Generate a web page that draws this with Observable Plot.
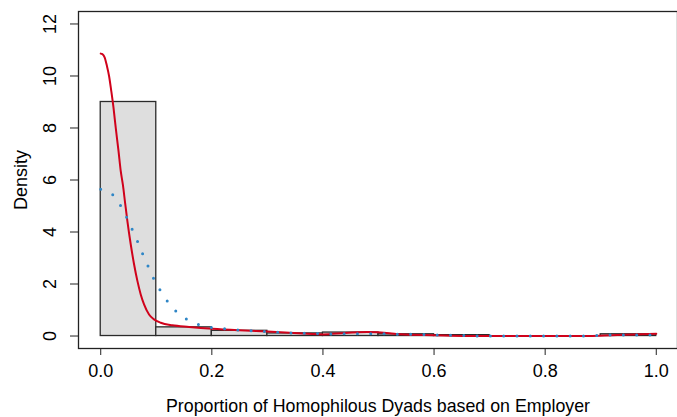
<!DOCTYPE html>
<html>
<head>
<meta charset="utf-8">
<script src="https://cdn.jsdelivr.net/npm/d3@7"></script>
<script src="https://cdn.jsdelivr.net/npm/@observablehq/plot@0.6"></script>
<style>
  html, body { margin: 0; padding: 0; background: #fff; }
  #chart svg { display: block; }
</style>
</head>
<body>
<div id="chart"></div>
<script>
// Histogram bins (density scale)
const binStart = [0.0, 0.1, 0.2, 0.3, 0.4, 0.5, 0.6, 0.7, 0.8, 0.9];
const binEnd   = [0.1, 0.2, 0.3, 0.4, 0.5, 0.6, 0.7, 0.8, 0.9, 1.0];
const binDensity = [9.0, 0.333, 0.2, 0.1, 0.133, 0.067, 0.033, 0, 0, 0.067];

// Red solid density curve
const redX = [0, 0.003, 0.007, 0.011, 0.015, 0.019, 0.023, 0.027, 0.032, 0.036, 0.040, 0.044, 0.048, 0.054, 0.060, 0.066, 0.072, 0.078, 0.087, 0.096, 0.108, 0.129, 0.159, 0.201, 0.25, 0.3, 0.372, 0.40, 0.44, 0.48, 0.52, 0.54, 0.60, 0.66, 0.75, 0.88, 0.92, 0.96, 1.0];
const redY = [10.86, 10.84, 10.72, 10.4, 10.0, 9.42, 8.78, 8.01, 7.12, 6.35, 5.8, 5.1, 4.42, 3.53, 2.76, 2.12, 1.60, 1.22, 0.83, 0.64, 0.51, 0.41, 0.35, 0.28, 0.22, 0.17, 0.09, 0.06, 0.12, 0.15, 0.11, 0.065, 0.03, 0.0, 0.0, 0.0, 0.03, 0.06, 0.09];

// Blue dotted density curve
const blueX = [0, 0.022, 0.036, 0.047, 0.057, 0.067, 0.076, 0.086, 0.096, 0.108, 0.121, 0.137, 0.156, 0.179, 0.202, 0.227, 0.25, 0.274, 0.298, 0.322, 0.348, 0.372, 0.396, 0.42, 0.444, 0.468, 0.492, 0.517, 0.541, 0.565, 0.589, 0.613, 0.637, 0.661, 0.686, 0.75, 0.85, 0.88, 0.904, 0.94, 0.976, 1.0];
const blueY = [5.64, 5.43, 5.01, 4.55, 4.08, 3.60, 3.13, 2.65, 2.18, 1.73, 1.31, 0.92, 0.63, 0.42, 0.32, 0.27, 0.23, 0.20, 0.17, 0.14, 0.115, 0.10, 0.09, 0.08, 0.09, 0.09, 0.09, 0.09, 0.065, 0.065, 0.05, 0.04, 0.03, 0.015, 0.0, 0.0, 0.0, 0.01, 0.03, 0.04, 0.04, 0.05];

// Axis ticks and labels
const xTicks = [0, 0.2, 0.4, 0.6, 0.8, 1.0];
const yTicks = [0, 2, 4, 6, 8, 10, 12];
const xTitle = "Proportion of Homophilous Dyads based on Employer";
const yTitle = "Density";

const bins = binStart.map((s, i) => ({x1: s, x2: binEnd[i], y: binDensity[i]}));
const red = redX.map((x, i) => ({x, y: redY[i]}));
const blue = blueX.map((x, i) => ({x, y: blueY[i]}));

const chart = Plot.plot({
  width: 677,
  height: 417,
  marginLeft: 78,
  marginRight: 0,
  marginTop: 11,
  marginBottom: 69,
  style: {fontFamily: "'Liberation Sans', Arial, sans-serif", fontSize: "18px", background: "#fff", color: "#000"},
  x: {domain: [-0.04, 1.04], range: [78, 678]},
  y: {domain: [-0.48, 12.48]},
  marks: [
    Plot.rectY(bins, {x1: "x1", x2: "x2", y1: 0, y2: "y", fill: "#dedede", stroke: "#2a2a2a", strokeWidth: 1.3, inset: 0}),
    Plot.line(red, {x: "x", y: "y", stroke: "#d0021b", strokeWidth: 2, curve: "monotone-x"}),
    Plot.line(blue, {x: "x", y: "y", stroke: "#2f86c6", strokeWidth: 3, strokeDasharray: "0,13.3", strokeLinecap: "round", curve: "monotone-x"}),
    Plot.frame({stroke: "#222", strokeWidth: 1.3}),
    Plot.axisX({ticks: xTicks, tickSize: 7, tickPadding: 9, tickFormat: d3.format(".1f"), fontSize: 18, label: null, stroke: "#222"}),
    Plot.axisY({ticks: yTicks, tickSize: 8, tickPadding: 15, tickRotate: -90, tickFormat: d3.format("d"), fontSize: 18, label: null, stroke: "#222"}),
    Plot.text([xTitle], {frameAnchor: "bottom", dy: 63, lineAnchor: "bottom", text: d => d, fontSize: 17.8, fill: "#000"}),
    Plot.text([yTitle], {frameAnchor: "left", dx: -52, rotate: -90, lineAnchor: "bottom", textAnchor: "middle", text: d => d, fontSize: 18, fill: "#000"})
  ]
});
document.getElementById("chart").appendChild(chart);
</script>
</body>
</html>
